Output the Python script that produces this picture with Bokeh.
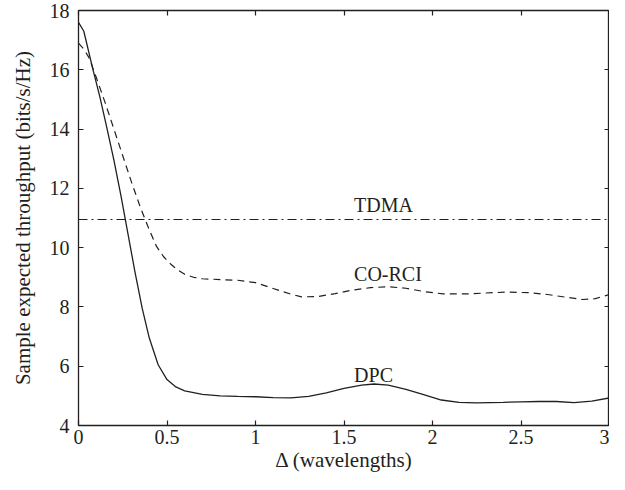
from bokeh.plotting import figure
from bokeh.models import LinearAxis, FixedTicker, Range1d, Spacer
from bokeh.layouts import row
from bokeh.core.properties import value
from bokeh.embed import file_html
from bokeh.resources import INLINE

# ---- data ----
dpc_x = [0, 0.03, 0.08, 0.12, 0.16, 0.2, 0.24, 0.28, 0.32, 0.36, 0.4, 0.45, 0.5, 0.55, 0.6, 0.7, 0.8, 0.9,
         1.0, 1.1, 1.2, 1.3, 1.4, 1.5, 1.6, 1.67, 1.75, 1.85, 1.95, 2.05, 2.15, 2.25, 2.4, 2.5,
         2.6, 2.7, 2.8, 2.9, 3.0]
dpc_y = [17.6, 17.3, 16.05, 15.1, 14.05, 12.95, 11.75, 10.45, 9.15, 7.95, 6.95, 6.05, 5.55, 5.3, 5.17, 5.05, 5.0, 4.98,
         4.97, 4.94, 4.93, 4.98, 5.1, 5.25, 5.36, 5.40, 5.36, 5.22, 5.04, 4.86, 4.78, 4.76, 4.78, 4.80,
         4.81, 4.81, 4.77, 4.82, 4.93]

corci_x = [0, 0.03, 0.06, 0.1, 0.15, 0.2, 0.25, 0.3, 0.35, 0.4, 0.44, 0.48, 0.52, 0.56, 0.6, 0.65, 0.7, 0.81, 0.9,
           1.0, 1.1, 1.2, 1.26, 1.35, 1.45, 1.55, 1.65, 1.75, 1.85, 1.95, 2.06, 2.2, 2.3, 2.42,
           2.55, 2.65, 2.75, 2.85, 2.92, 3.0]
corci_y = [16.9, 16.7, 16.4, 15.75, 14.9, 14.0, 13.1, 12.2, 11.35, 10.6, 10.05, 9.7, 9.45, 9.25, 9.1, 9.0, 8.95, 8.92, 8.9,
           8.82, 8.62, 8.43, 8.34, 8.35, 8.45, 8.57, 8.65, 8.68, 8.63, 8.52, 8.44, 8.44, 8.47, 8.5,
           8.48, 8.42, 8.33, 8.25, 8.28, 8.42]

tdma_x = [0, 3]
tdma_y = [10.95, 10.95]

label_text = ["TDMA", "CO-RCI", "DPC"]
label_x = [1.557, 1.557, 1.557]
label_y = [11.45, 9.1, 5.72]

x_ticks = [0, 0.5, 1, 1.5, 2, 2.5, 3]
x_tick_labels = ["0", "0.5", "1", "1.5", "2", "2.5", "3"]
y_ticks = [4, 6, 8, 10, 12, 14, 16, 18]

FONT = "Liberation Serif"
INK = "#231f20"

p = figure(width=602, height=474, output_backend="svg", toolbar_location=None,
           x_range=Range1d(0, 3), y_range=Range1d(4, 18),
           min_border_left=0, min_border_right=0, min_border_top=10, min_border_bottom=0)
p.grid.visible = False
p.background_fill_color = "white"
p.border_fill_color = "white"
p.outline_line_color = INK
p.outline_line_width = 1.3

for ax in (p.xaxis[0], p.yaxis[0]):
    ax.axis_line_color = None
    ax.major_tick_in = 5
    ax.major_tick_out = 0
    ax.minor_tick_line_color = None
    ax.major_tick_line_color = INK
    ax.major_tick_line_width = 1.2
    ax.major_label_text_font = FONT
    ax.major_label_text_font_size = "20px"
    ax.major_label_text_color = INK
    ax.axis_label_text_font = FONT
    ax.axis_label_text_font_size = "21px"
    ax.axis_label_text_font_style = "normal"
    ax.axis_label_text_color = INK

p.xaxis[0].ticker = FixedTicker(ticks=x_ticks)
p.xaxis[0].major_label_overrides = {t: l for t, l in zip(x_ticks, x_tick_labels)}
p.yaxis[0].ticker = FixedTicker(ticks=y_ticks)
p.xaxis[0].axis_label = "Δ (wavelengths)"
p.yaxis[0].axis_label = "Sample expected throughput (bits/s/Hz)"
p.xaxis[0].major_label_standoff = 4
p.yaxis[0].major_label_standoff = 9
p.xaxis[0].axis_label_standoff = 1
p.yaxis[0].axis_label_standoff = 12

top = LinearAxis(ticker=FixedTicker(ticks=x_ticks))
right = LinearAxis(ticker=FixedTicker(ticks=y_ticks))
top.major_label_overrides = {t: "" for t in x_ticks}
right.major_label_overrides = {t: "" for t in y_ticks}
for ax in (top, right):
    ax.axis_line_color = None
    ax.major_tick_in = 5
    ax.major_tick_out = 0
    ax.minor_tick_line_color = None
    ax.major_tick_line_color = INK
    ax.major_tick_line_width = 1.2
    ax.major_label_text_font_size = "1px"
    ax.major_label_standoff = 0
right.major_label_standoff = 11
p.add_layout(top, "above")
p.add_layout(right, "right")

p.line(tdma_x, tdma_y, line_color=INK, line_width=1.2, line_dash="9 4 2 4")
p.line(corci_x, corci_y, line_color=INK, line_width=1.2, line_dash="7 5")
p.line(dpc_x, dpc_y, line_color=INK, line_width=1.3)

p.text(x=label_x, y=label_y, text=label_text, text_font=value(FONT), text_font_size="20px",
       text_color=INK, text_baseline="alphabetic", text_align="left")

layout = row(Spacer(width=7, height=10), p)
open("out.html", "w").write(file_html(layout, INLINE))
